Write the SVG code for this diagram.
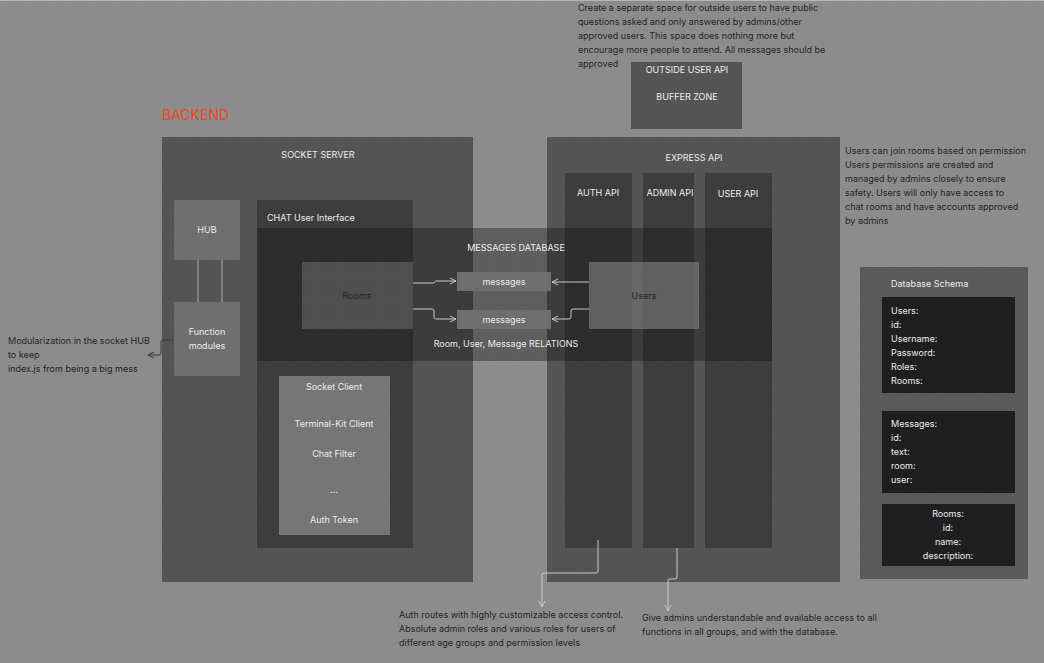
<svg xmlns="http://www.w3.org/2000/svg" width="1044" height="663" viewBox="0 0 1044 663">
<defs>
<pattern id="dots" patternUnits="userSpaceOnUse" width="12.5" height="12.5">
<circle cx="10" cy="6" r="0.7" fill="#000" fill-opacity="0.13"/>
</pattern>
<marker id="arr" viewBox="0 0 8 8" refX="7" refY="4" markerWidth="8" markerHeight="8" markerUnits="userSpaceOnUse" orient="auto">
<path d="M1,1 L7,4 L1,7" fill="none" stroke="#c8c8c8" stroke-width="1"/>
</marker>
<marker id="arrd" viewBox="0 0 8 8" refX="7" refY="4" markerWidth="8" markerHeight="8" markerUnits="userSpaceOnUse" orient="auto">
<path d="M1,1 L7,4 L1,7" fill="none" stroke="#3a3a3a" stroke-width="1"/>
</marker>
</defs>
<style>
text{font-family:Inter,"Liberation Sans",sans-serif;font-size:9px}
.lt{fill:#ececec}
.dk{fill:#262626}
.c{text-anchor:middle}
.mid{fill:#555555}
.dark{fill:#3d3d3d}
.conn{fill:none;stroke:#c8c8c8;stroke-width:1}
</style>
<rect x="0" y="0" width="1044" height="663" fill="#8c8c8c"/>
<line x1="0" y1="0.5" x2="1044" y2="0.5" stroke="#b5b5b5"/>

<text x="162" y="120" style="font-size:14px" fill="#f24822">BACKEND</text>

<g id="socket-server">
<rect x="162" y="137" width="311" height="445" class="mid"/>
<text x="318" y="158" class="lt c">SOCKET SERVER</text>
</g>
<g id="hub">
<rect x="174" y="200" width="66" height="60" fill="#6f6f6f"/>
<text x="207" y="233" class="lt c">HUB</text>
</g>
<g id="function-modules">
<rect x="174" y="302" width="66" height="74" fill="#6f6f6f"/>
<text x="207" y="335" class="lt c">Function</text>
<text x="207" y="349" class="lt c">modules</text>
</g>
<g id="chat-ui">
<rect x="257" y="200" width="156" height="348" class="dark"/>
<text x="267" y="221" class="lt">CHAT User Interface</text>
</g>
<g id="socket-client">
<rect x="279" y="376" width="111" height="159" fill="#767676"/>
<text x="334" y="390" class="lt c">Socket Client</text>
<text x="334" y="427" class="lt c">Terminal-Kit Client</text>
<text x="334" y="457" class="lt c">Chat Filter</text>
<text x="334" y="493" class="lt c">...</text>
<text x="334" y="523" class="lt c">Auth Token</text>
</g>

<g id="outside-user-api">
<rect x="631" y="62" width="111" height="67" class="mid"/>
<text x="687" y="73" class="lt c">OUTSIDE USER API</text>
<text x="687" y="100" class="lt c">BUFFER ZONE</text>
</g>

<g id="express-api">
<rect x="547" y="137" width="293" height="445" class="mid"/>
<text x="694" y="161" class="lt c">EXPRESS API</text>
</g>
<g id="auth-api">
<rect x="565" y="173" width="67" height="375" class="dark"/>
<text x="598" y="196" class="lt c">AUTH API</text>
</g>
<g id="admin-api">
<rect x="643" y="173" width="51" height="375" class="dark"/>
<text x="670" y="196" class="lt c">ADMIN API</text>
</g>
<g id="user-api">
<rect x="705" y="173" width="67" height="375" class="dark"/>
<text x="738" y="197" class="lt c">USER API</text>
</g>

<g id="messages-database">
<rect x="257" y="228" width="515" height="133" fill="#151515" fill-opacity="0.38"/>
<text x="516" y="251" class="lt c">MESSAGES DATABASE</text>
<text x="506" y="347" class="lt c">Room, User, Message RELATIONS</text>
</g>
<g id="rooms">
<rect x="302" y="262" width="111" height="67" fill="#505050"/>
<text x="357" y="299" class="dk c">Rooms</text>
</g>
<g id="users">
<rect x="589" y="262" width="110" height="67" fill="#8a8a8a" fill-opacity="0.55"/>
<text x="644" y="299" class="dk c">Users</text>
</g>
<g id="messages-1">
<rect x="457" y="272" width="94" height="19" fill="#6e6e6e"/>
<text x="504" y="285" class="lt c">messages</text>
</g>
<g id="messages-2">
<rect x="457" y="310" width="94" height="19" fill="#6e6e6e"/>
<text x="504" y="323" class="lt c">messages</text>
</g>

<g id="connectors">
<line x1="198" y1="260" x2="198" y2="302" stroke="#a8a8a8"/>
<line x1="222" y1="260" x2="222" y2="302" stroke="#a8a8a8"/>
<path d="M413,283 H433 Q435,283 435,281.5 Q435,281 437,281 H456" class="conn" marker-end="url(#arr)"/>
<path d="M413,309 H432 Q434,309 434,311 V317 Q434,319 436,319 H456" class="conn" marker-end="url(#arr)"/>
<path d="M589,282 H552" class="conn" marker-end="url(#arr)"/>
<path d="M589,309 H573 Q571,309 571,311 V317 Q571,319 569,319 H552" class="conn" marker-end="url(#arr)"/>
<path d="M174,340 H163 Q161,340 161,342 V353 Q161,355 159,355 H148" fill="none" stroke="#3a3a3a" marker-end="url(#arrd)"/>
<path d="M598,540 V571 Q598,573 596,573 H544 Q542,573 542,575 V607" class="conn" marker-end="url(#arr)"/>
<path d="M677,548 V577 Q677,579 675,579 H670 Q668,579 668,581 V611" class="conn" marker-end="url(#arr)"/>
</g>

<g id="database-schema">
<rect x="860" y="267" width="168" height="312" fill="#5a5a5a"/>
<text x="891" y="287" class="lt">Database Schema</text>
</g>
<g id="schema-users">
<rect x="882" y="297" width="133" height="96" fill="#1f1f1f"/>
<text x="891" y="314" class="lt">Users:</text>
<text x="891" y="328" class="lt">id:</text>
<text x="891" y="342" class="lt">Username:</text>
<text x="891" y="356" class="lt">Password:</text>
<text x="891" y="370" class="lt">Roles:</text>
<text x="891" y="384" class="lt">Rooms:</text>
</g>
<g id="schema-messages">
<rect x="882" y="411" width="133" height="82" fill="#1f1f1f"/>
<text x="891" y="427" class="lt">Messages:</text>
<text x="891" y="441" class="lt">id:</text>
<text x="891" y="455" class="lt">text:</text>
<text x="891" y="469" class="lt">room:</text>
<text x="891" y="483" class="lt">user:</text>
</g>
<g id="schema-rooms">
<rect x="882" y="504" width="133" height="62" fill="#1f1f1f"/>
<text x="948" y="517" class="lt c">Rooms:</text>
<text x="948" y="531" class="lt c">id:</text>
<text x="948" y="545" class="lt c">name:</text>
<text x="948" y="559" class="lt c">description:</text>
</g>

<g id="notes">
<text x="578" y="11" class="dk">Create a separate space for outside users to have public</text>
<text x="578" y="25" class="dk">questions asked and only answered by admins/other</text>
<text x="578" y="39" class="dk">approved users. This space does nothing more but</text>
<text x="578" y="53" class="dk">encourage more people to attend. All messages should be</text>
<text x="578" y="67" class="dk">approved</text>
<text x="845" y="154" class="dk">Users can join rooms based on permission</text>
<text x="845" y="168" class="dk">Users permissions are created and</text>
<text x="845" y="182" class="dk">managed by admins closely to ensure</text>
<text x="845" y="196" class="dk">safety. Users will only have access to</text>
<text x="845" y="210" class="dk">chat rooms and have accounts approved</text>
<text x="845" y="224" class="dk">by admins</text>
<text x="8" y="344" class="dk">Modularization in the socket HUB</text>
<text x="8" y="358" class="dk">to keep</text>
<text x="8" y="372" class="dk">index.js from being a big mess</text>
<text x="399" y="618" class="dk">Auth routes with highly customizable access control.</text>
<text x="399" y="632" class="dk">Absolute admin roles and various roles for users of</text>
<text x="399" y="646" class="dk">different age groups and permission levels</text>
<text x="642" y="621" class="dk">Give admins understandable and available access to all</text>
<text x="642" y="635" class="dk">functions in all groups, and with the database.</text>
</g>

<rect x="0" y="0" width="1044" height="663" fill="url(#dots)" pointer-events="none"/>
</svg>
